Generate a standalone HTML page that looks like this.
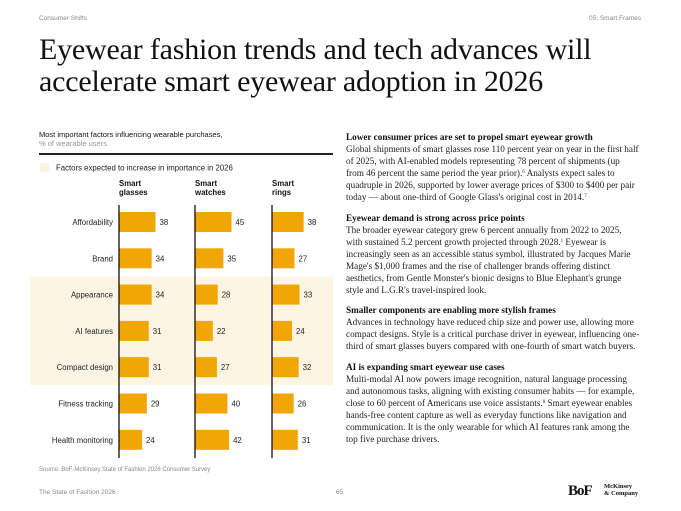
<!DOCTYPE html>
<html><head><meta charset="utf-8"><style>
*{margin:0;padding:0;box-sizing:border-box}
body{width:681px;height:511px;background:#fff;position:relative;overflow:hidden;font-family:"Liberation Sans",sans-serif;color:#111}
.abs{position:absolute}
.small{font-size:6.5px;color:#888}
h1{position:absolute;left:39px;top:34px;font-family:"Liberation Serif",serif;font-weight:400;font-size:30px;line-height:32px;color:#111;letter-spacing:-0.2px;white-space:nowrap}
.rt{position:absolute;left:346px;width:330px;font-family:"Liberation Serif",serif;font-size:9.2px;line-height:12px;color:#222;white-space:nowrap}
.rt b{display:block;font-weight:700;color:#111}
.rt p{margin-bottom:8.5px}
.rt sup{font-size:5px;line-height:0;vertical-align:3px}
</style></head><body>
<div class="abs small" style="left:39px;top:15px">Consumer Shifts</div>
<div class="abs small" style="right:40px;top:15px">05. Smart Frames</div>
<h1>Eyewear fashion trends and tech advances will<br>accelerate smart eyewear adoption in 2026</h1>

<div class="abs" style="left:39px;top:130px;font-size:7.5px;line-height:9px">Most important factors influencing wearable purchases,<br><span style="color:#999">% of wearable users</span></div>
<div class="abs" style="left:39px;top:153px;width:294px;height:1.5px;background:#222"></div>

<svg class="abs" style="left:0;top:0" width="681" height="511" id="chart"></svg>

<div class="abs small" style="left:39px;top:467px;font-size:6px">Source: BoF-McKinsey State of Fashion 2026 Consumer Survey</div>
<div class="abs small" style="left:39px;top:489px">The State of Fashion 2026</div>
<div class="abs small" style="left:336px;top:489px">65</div>
<div class="abs" style="left:568px;top:483px;font-family:'Liberation Serif',serif;font-weight:700;font-size:15px;letter-spacing:-1px">BoF</div>
<div class="abs" style="left:604px;top:484px;font-family:'Liberation Serif',serif;font-weight:700;font-size:6.5px;line-height:6.5px">McKinsey<br>&amp; Company</div>

<div class="rt" style="top:131px">
<p><b>Lower consumer prices are set to propel smart eyewear growth</b>Global shipments of smart glasses rose 110 percent year on year in the first half<br>of 2025, with AI-enabled models representing 78 percent of shipments (up<br>from 46 percent the same period the year prior).<sup>6</sup> Analysts expect sales to<br>quadruple in 2026, supported by lower average prices of $300 to $400 per pair<br>today — about one-third of Google Glass's original cost in 2014.<sup>7</sup></p>
<p><b>Eyewear demand is strong across price points</b>The broader eyewear category grew 6 percent annually from 2022 to 2025,<br>with sustained 5.2 percent growth projected through 2028.<sup>1</sup> Eyewear is<br>increasingly seen as an accessible status symbol, illustrated by Jacques Marie<br>Mage's $1,000 frames and the rise of challenger brands offering distinct<br>aesthetics, from Gentle Monster's bionic designs to Blue Elephant's grunge<br>style and L.G.R's travel-inspired look.</p>
<p><b>Smaller components are enabling more stylish frames</b>Advances in technology have reduced chip size and power use, allowing more<br>compact designs. Style is a critical purchase driver in eyewear, influencing one-<br>third of smart glasses buyers compared with one-fourth of smart watch buyers.</p>
<p><b>AI is expanding smart eyewear use cases</b>Multi-modal AI now powers image recognition, natural language processing<br>and autonomous tasks, aligning with existing consumer habits — for example,<br>close to 60 percent of Americans use voice assistants.<sup>8</sup> Smart eyewear enables<br>hands-free content capture as well as everyday functions like navigation and<br>communication. It is the only wearable for which AI features rank among the<br>top five purchase drivers.</p>
</div>

<script>
const categories=["Affordability","Brand","Appearance","AI features","Compact design","Fitness tracking","Health monitoring"];
const highlighted=[false,false,true,true,true,false,false];
const seriesNames=["Smart glasses","Smart watches","Smart rings"];
const glasses=[38,34,34,31,31,29,24];
const watches=[45,35,28,22,27,40,42];
const rings=[38,27,33,24,32,26,31];
const series=[glasses,watches,rings];
const NS="http://www.w3.org/2000/svg";
const svg=document.getElementById('chart');
const colX=[119,195,272];
const colMax=[38,45,45];
const colW=[36.5,36.5,37.5];
const rowY0=222,rowStep=36.3,barH=20;
const y=i=>rowY0+i*rowStep;
const xs=(c,v)=>v/colMax[c]*colW[c];
function mk(t,a){const e=document.createElementNS(NS,t);for(const k in a)e.setAttribute(k,a[k]);svg.appendChild(e);return e;}
let hi=highlighted.map((h,i)=>h?i:-1).filter(i=>i>=0);
if(hi.length){const b=mk('rect',{x:30,y:y(hi[0])-rowStep/2,width:303,height:rowStep*hi.length,fill:'#fcf5e4'});

}
const ls=mk('rect',{x:40,y:163,width:9,height:9,fill:'#fcf5e4'});


const lt=mk('text',{x:56,y:170.5,'font-size':7.8,fill:'#222'});lt.textContent='Factors expected to increase in importance in 2026';


categories.forEach((c,i)=>{const t=mk('text',{x:113,y:y(i)+3,'font-size':7.8,'text-anchor':'end',fill:'#222'});t.textContent=c;

});
series.forEach((s,c)=>{
 const nm=seriesNames[c].split(' ');
 nm.forEach((w,k)=>{const t=mk('text',{x:colX[c],y:186+k*9,'font-size':7.8,'font-weight':700,fill:'#111'});t.textContent=w;
 
 });
 s.forEach((v,i)=>{
  const r=mk('rect',{x:colX[c],y:y(i)-barH/2,width:xs(c,v),height:barH,fill:'#f2a506'});
  
  
  const t=mk('text',{x:colX[c]+xs(c,v)+4,y:y(i)+3,'font-size':7.8,fill:'#222'});t.textContent=v;
  
  
 });
 const a=mk('line',{x1:colX[c],x2:colX[c],y1:205,y2:458,stroke:'#111','stroke-width':1.3});
 
 
});
</script>
</body></html>
